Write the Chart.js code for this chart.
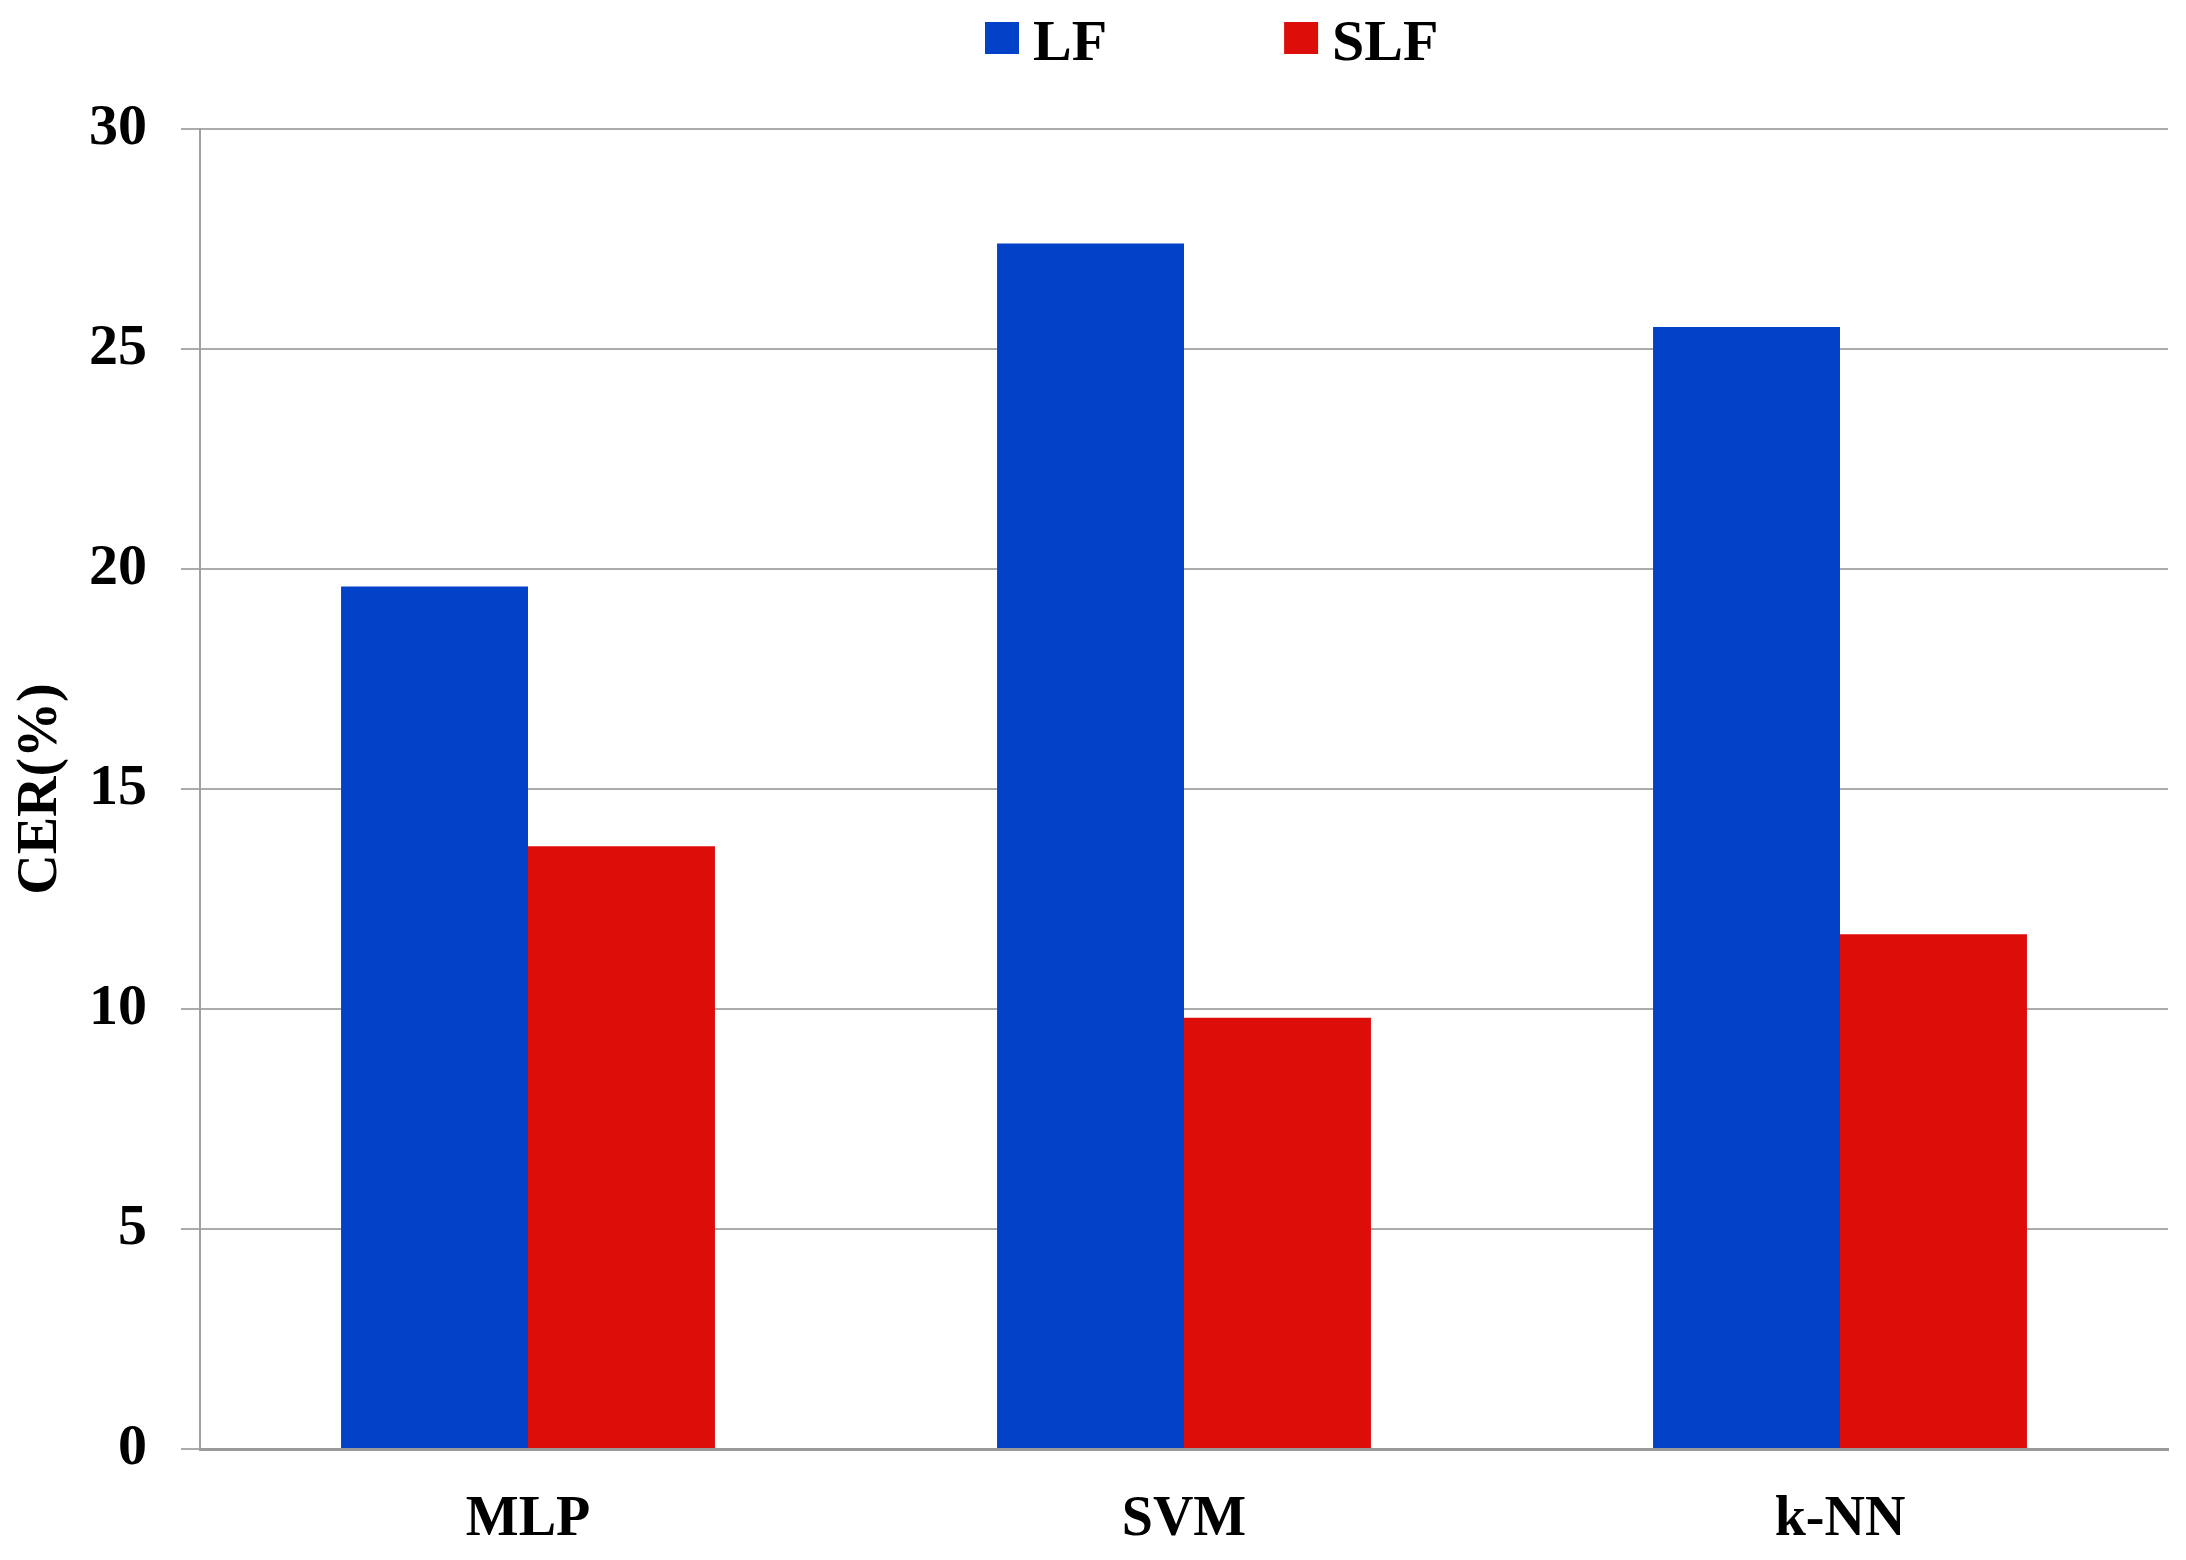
<!DOCTYPE html>
<html>
<head>
<meta charset="utf-8">
<script src="https://cdn.jsdelivr.net/npm/chart.js@4"></script>
<style>
  html, body { margin: 0; padding: 0; background: #fff; }
  #wrap { width: 2186px; height: 1560px; }
</style>
</head>
<body>
<div id="wrap"><canvas id="grafico"></canvas></div>
<script>
const categorias = ["MLP", "SVM", "k-NN"];
const valoresLF = [19.6, 27.4, 25.5];
const valoresSLF = [13.7, 9.8, 11.7];
const ticksY = [0, 5, 10, 15, 20, 25, 30];

const fonte = "'Liberation Serif', 'Times New Roman', serif";

// legenda desenhada à mão para ficar no mesmo lugar da figura
const legendaPlugin = {
  id: "legendaTopo",
  afterDraw(chart) {
    const c = chart.ctx;
    c.save();
    c.font = "bold 58px " + fonte;
    c.textBaseline = "alphabetic";
    let x = 985;
    chart.data.datasets.forEach((ds, i) => {
      c.fillStyle = ds.backgroundColor;
      c.fillRect(x, 22, 34, 32);
      c.fillStyle = "#000";
      c.fillText(ds.label, x + 48, 60);
      x += 48 + c.measureText(ds.label).width + 177;
    });
    c.restore();
  }
};

new Chart(document.getElementById("grafico"), {
  type: "bar",
  data: {
    labels: categorias,
    datasets: [
      { label: "LF", data: valoresLF, backgroundColor: "#0142c9" },
      { label: "SLF", data: valoresSLF, backgroundColor: "#dd0e0a" }
    ]
  },
  options: {
    responsive: true,
    maintainAspectRatio: false,
    animation: false,
    layout: { padding: { top: 129, right: 18, left: 0, bottom: 0 } },
    datasets: { bar: { barPercentage: 1, categoryPercentage: 0.57 } },
    plugins: {
      legend: { display: false },
      tooltip: { enabled: false }
    },
    scales: {
      x: {
        afterFit: (s) => { s.height = 111; },
        grid: { display: false, drawTicks: false },
        border: { display: true, color: "#9a9a9a", width: 3 },
        ticks: { color: "#000", padding: 38, font: { family: fonte, size: 56, weight: "bold" } }
      },
      y: {
        min: 0,
        max: 30,
        afterFit: (s) => { s.width = 200; },
        afterBuildTicks: (s) => { s.ticks = ticksY.map(v => ({ value: v })); },
        grid: { color: "#ababab", lineWidth: 2, tickLength: 19 },
        border: { display: true, color: "#a0a0a0", width: 2 },
        ticks: { color: "#000", padding: 34, font: { family: fonte, size: 58, weight: "bold" } },
        title: {
          display: true,
          text: "CER(%)",
          color: "#000",
          padding: { top: 8, bottom: 0 },
          font: { family: fonte, size: 56, weight: "bold" }
        }
      }
    }
  },
  plugins: [legendaPlugin]
});
</script>
</body>
</html>
